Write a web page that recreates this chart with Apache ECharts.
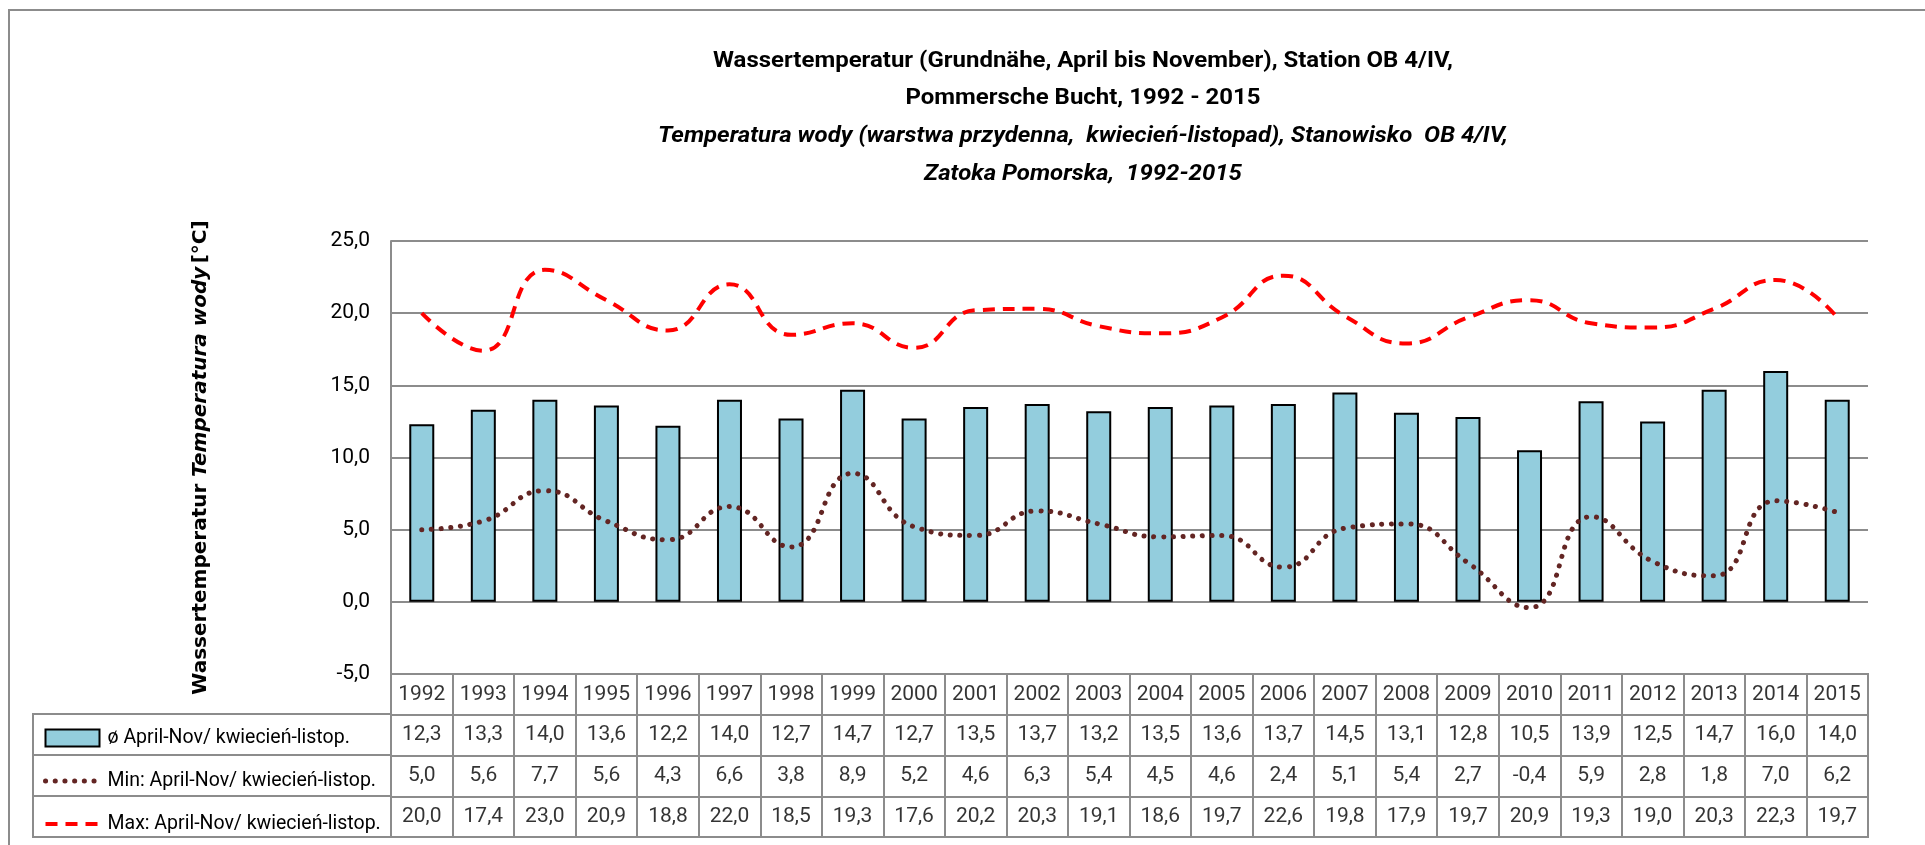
<!DOCTYPE html>
<html>
<head>
<meta charset="utf-8">
<script src="https://cdn.jsdelivr.net/npm/echarts@6/dist/echarts.min.js"></script>
<style>
html,body{margin:0;padding:0;background:#fff;}
#chart{width:1925px;height:845px;}
</style>
</head>
<body>
<div id="chart"></div>
<script>
// ---- data ----
var years = ['1992','1993','1994','1995','1996','1997','1998','1999','2000','2001','2002','2003','2004','2005','2006','2007','2008','2009','2010','2011','2012','2013','2014','2015'];
var avgValues = [12.3,13.3,14.0,13.6,12.2,14.0,12.7,14.7,12.7,13.5,13.7,13.2,13.5,13.6,13.7,14.5,13.1,12.8,10.5,13.9,12.5,14.7,16.0,14.0];
var minValues = [5.0,5.6,7.7,5.6,4.3,6.6,3.8,8.9,5.2,4.6,6.3,5.4,4.5,4.6,2.4,5.1,5.4,2.7,-0.4,5.9,2.8,1.8,7.0,6.2];
var maxValues = [20.0,17.4,23.0,20.9,18.8,22.0,18.5,19.3,17.6,20.2,20.3,19.1,18.6,19.7,22.6,19.8,17.9,19.7,20.9,19.3,19.0,20.3,22.3,19.7];
var seriesNames = ['ø April-Nov/ kwiecień-listop.', 'Min: April-Nov/ kwiecień-listop.', 'Max: April-Nov/ kwiecień-listop.'];
var titleLines = [
  'Wassertemperatur (Grundnähe, April bis November), Station OB 4/IV,',
  'Pommersche Bucht, 1992 - 2015',
  'Temperatura wody (warstwa przydenna,  kwiecień-listopad), Stanowisko  OB 4/IV,',
  'Zatoka Pomorska,  1992-2015'
];
var yMin = -5, yMax = 25, yStep = 5;

// ---- styling ----
var FONT = 'Roboto, "Liberation Sans", sans-serif';
var GRID_GRAY = '#8c8c8c';
var MIN_COLOR = '#632523', MAX_COLOR = '#FF0000', BAR_COLOR = '#93CDDD';
function fmt(v){ return v.toFixed(1).replace('.', ','); }

// condense the title horizontally (reference uses a narrow font)
var measureCtx = document.createElement('canvas').getContext('2d');
measureCtx.font = 'bold 22.5px Roboto';
var titleScale = 740 / measureCtx.measureText(titleLines[0]).width;
if (!(titleScale > 0.6 && titleScale < 1.3)) titleScale = 1;

var rows = [years, avgValues, minValues, maxValues];
var tableData = [];
for (var r = 0; r < rows.length; r++) {
  for (var i = 0; i < years.length; i++) {
    var v = rows[r][i];
    tableData.push([i, r, r === 0 ? v : fmt(v)]);
  }
}

var chart = echarts.init(document.getElementById('chart'), null, {renderer: 'canvas'});

var titleGraphics = titleLines.map(function(t, k){
  return {
    type: 'text', x: 1083, y: 61 + k * 37.7, scaleX: titleScale, silent: true,
    style: {
      text: t, textAlign: 'center', textVerticalAlign: 'middle',
      fontFamily: 'Roboto', fontSize: 22.5, fontWeight: 'bold',
      fontStyle: k >= 2 ? 'italic' : 'normal', fill: '#000'
    }
  };
});

var option = {
  animation: false,
  backgroundColor: '#fff',
  graphic: [{
    type: 'rect', silent: true, z: -1,
    shape: {x: 9, y: 10, width: 2000, height: 1000},
    style: {fill: 'none', stroke: GRID_GRAY, lineWidth: 2}
  }].concat(titleGraphics),
  legend: {
    orient: 'vertical', left: 38, top: 723, itemGap: 23,
    itemWidth: 54, itemHeight: 17,
    selectedMode: false,
    textStyle: {fontFamily: FONT, fontSize: 19.5, color: '#000', padding: [0,0,0,3]},
    data: [
      {name: seriesNames[0], icon: 'rect', itemStyle: {color: BAR_COLOR, borderColor: '#000', borderWidth: 2}},
      {name: seriesNames[1], itemStyle: {opacity: 0},
       lineStyle: {color: MIN_COLOR, width: 5, type: [0.1, 9.6], cap: 'round'}},
      {name: seriesNames[2], itemStyle: {opacity: 0},
       lineStyle: {color: MAX_COLOR, width: 4, type: [12, 8], cap: 'butt'}}
    ]
  },
  grid: [
    {left: 391, right: 57, top: 241, height: 433},
    {left: 391, right: 57, top: 674, height: 163, show: true, borderColor: GRID_GRAY, borderWidth: 2},
    {left: 33, width: 358, top: 714, height: 123, show: true, borderColor: GRID_GRAY, borderWidth: 2}
  ],
  xAxis: [
    {type: 'category', gridIndex: 0, data: years, boundaryGap: true,
     axisLine: {show: false}, axisTick: {show: false}, axisLabel: {show: false}, splitLine: {show: false}},
    {type: 'category', gridIndex: 1, data: years, boundaryGap: true,
     axisLine: {show: false}, axisTick: {show: false, interval: 0}, axisLabel: {show: false, interval: 0},
     splitLine: {show: true, interval: 0, lineStyle: {color: GRID_GRAY, width: 2}}},
    {type: 'value', gridIndex: 2, show: false, min: 0, max: 1}
  ],
  yAxis: [
    {type: 'value', gridIndex: 0, min: yMin, max: yMax, interval: yStep,
     axisLine: {show: true, lineStyle: {color: GRID_GRAY, width: 2}},
     axisTick: {show: false},
     axisLabel: {formatter: function(v){ return fmt(v); }, fontFamily: FONT, fontSize: 21, color: '#000', margin: 21},
     splitLine: {show: true, lineStyle: {color: GRID_GRAY, width: 2}},
     name: '{a|Wassertemperatur}  {b|Temperatura wody} {a|[°C]}',
     nameLocation: 'middle', nameRotate: 90, nameGap: 180,
     nameTextStyle: {
       rich: {
         a: {fontFamily: '"DejaVu Sans", Verdana, sans-serif', fontSize: 20, fontWeight: 'bold', color: '#000'},
         b: {fontFamily: '"DejaVu Sans", Verdana, sans-serif', fontSize: 20, fontWeight: 'bold', fontStyle: 'italic', color: '#000'}
       }
     }},
    {type: 'category', gridIndex: 1, inverse: true, data: ['y','a','n','x'], boundaryGap: true,
     axisLine: {show: false}, axisTick: {show: false, interval: 0}, axisLabel: {show: false, interval: 0},
     splitLine: {show: true, interval: 0, lineStyle: {color: GRID_GRAY, width: 2}}},
    {type: 'category', gridIndex: 2, inverse: true, data: ['a','n','x'], boundaryGap: true,
     axisLine: {show: false}, axisTick: {show: false, interval: 0}, axisLabel: {show: false, interval: 0},
     splitLine: {show: true, interval: 0, lineStyle: {color: GRID_GRAY, width: 2}}}
  ],
  series: [
    {name: seriesNames[0], type: 'bar', xAxisIndex: 0, yAxisIndex: 0, data: avgValues, barWidth: 25,
     itemStyle: {color: BAR_COLOR, borderColor: '#000', borderWidth: 2}, z: 2},
    {name: seriesNames[1], type: 'line', xAxisIndex: 0, yAxisIndex: 0, data: minValues, smooth: true,
     symbol: 'none', showSymbol: false, color: MIN_COLOR,
     lineStyle: {color: MIN_COLOR, width: 5, type: [0.1, 9.6], cap: 'round'}, z: 3},
    {name: seriesNames[2], type: 'line', xAxisIndex: 0, yAxisIndex: 0, data: maxValues, smooth: true,
     symbol: 'none', showSymbol: false, color: MAX_COLOR,
     lineStyle: {color: MAX_COLOR, width: 4, type: [12, 8], cap: 'butt'}, z: 3},
    {name: 'table', type: 'scatter', xAxisIndex: 1, yAxisIndex: 1, data: tableData, silent: true,
     symbol: 'rect', symbolSize: 1, itemStyle: {color: 'transparent'},
     label: {show: true, position: 'inside', formatter: function(p){ return p.value[2]; },
             fontFamily: FONT, fontSize: 21, color: '#000'}}
  ]
};
chart.setOption(option);
</script>
</body>
</html>
